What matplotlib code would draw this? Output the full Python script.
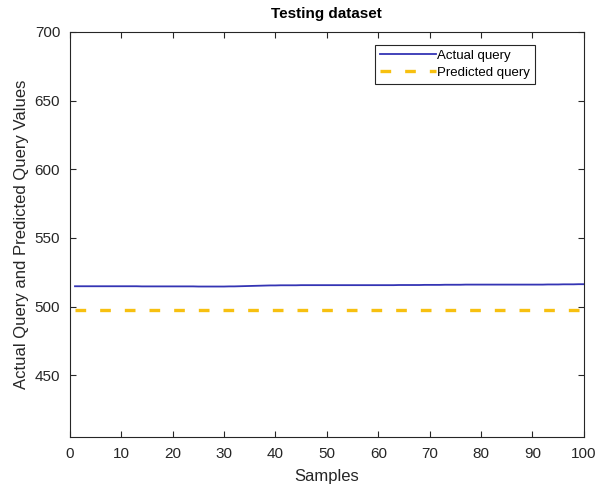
import numpy as np
import matplotlib
matplotlib.use('Agg')
import matplotlib.pyplot as plt

plt.rcParams['font.family'] = ['Liberation Sans', 'DejaVu Sans']

# test-set samples
samples = np.arange(1, 101)

actual_query = [
    514.8, 514.8, 514.8, 514.8, 514.8, 514.8, 514.8, 514.8, 514.8, 514.8,
    514.8, 514.8, 514.8, 514.7, 514.7, 514.7, 514.7, 514.7, 514.7, 514.7,
    514.7, 514.7, 514.7, 514.7, 514.6, 514.6, 514.6, 514.6, 514.6, 514.6,
    514.7, 514.7, 514.8, 514.9, 515.0, 515.1, 515.2, 515.3, 515.4, 515.4,
    515.5, 515.5, 515.5, 515.5, 515.6, 515.6, 515.6, 515.6, 515.6, 515.6,
    515.6, 515.6, 515.6, 515.6, 515.6, 515.6, 515.6, 515.6, 515.6, 515.6,
    515.6, 515.6, 515.6, 515.7, 515.7, 515.7, 515.7, 515.7, 515.8, 515.8,
    515.8, 515.8, 515.9, 515.9, 515.9, 515.9, 516.0, 516.0, 516.0, 516.0,
    516.0, 516.0, 516.0, 516.0, 516.0, 516.0, 516.0, 516.0, 516.0, 516.0,
    516.0, 516.0, 516.1, 516.1, 516.1, 516.2, 516.2, 516.2, 516.3, 516.3,
]
predicted_query = [497.5] * 100

fig = plt.figure(figsize=(5.97, 4.9), dpi=100)
ax = fig.add_axes([0.117, 0.108, 0.861, 0.827])

ax.plot(samples, actual_query, color='#3434b4', lw=1.3, label='Actual query')
ax.plot(samples, predicted_query, color='#f7c010', lw=2.4,
        dashes=(3.2, 4.2), label='Predicted query')

ax.set_xlim(0, 100)
ax.set_ylim(405, 700)
ax.set_xticks(np.arange(0, 101, 10))
ax.set_yticks(np.arange(450, 701, 50))

ax.tick_params(direction='in', top=True, right=True, length=4,
               labelsize=11, colors='#262626', width=0.8, pad=7)
for s in ax.spines.values():
    s.set_color('#262626')
    s.set_linewidth(0.8)

ax.set_xlabel('Samples', fontsize=12, color='#262626', labelpad=6)
ax.set_ylabel('Actual Query and Predicted Query Values', fontsize=12,
              color='#262626', labelpad=4)
ax.set_title('Testing dataset', fontsize=11, fontweight='bold', pad=10)

leg = ax.legend(loc='upper right', bbox_to_anchor=(0.918, 0.985),
                fontsize=9.5, handlelength=4.2, handletextpad=0.1,
                borderpad=0.4, labelspacing=0.35, fancybox=False,
                framealpha=1, edgecolor='#262626')
leg.get_frame().set_linewidth(0.8)

fig.savefig('out.png', dpi=100)
